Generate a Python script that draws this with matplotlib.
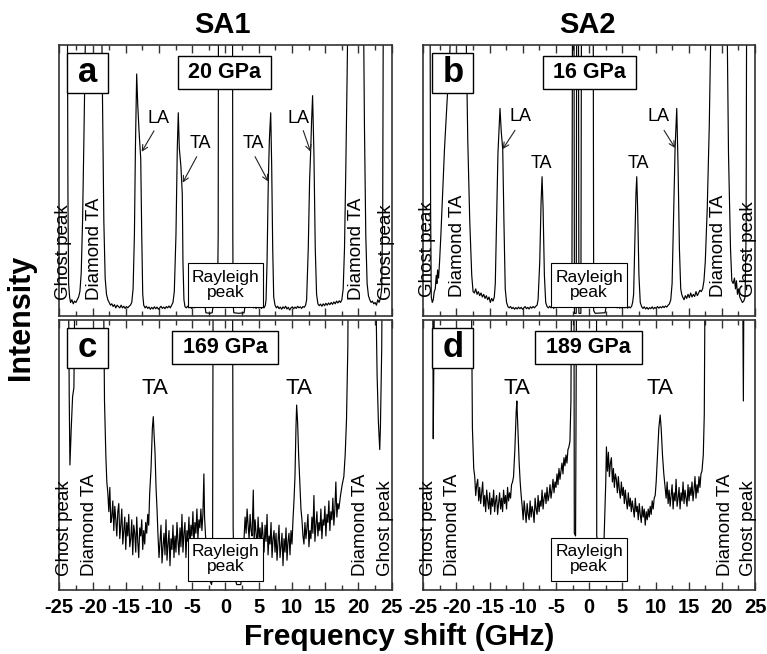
import numpy as np
import matplotlib
matplotlib.use("Agg")
from matplotlib import pyplot as plt
from matplotlib.patches import Rectangle
from matplotlib.ticker import MultipleLocator

plt.rcParams['font.family'] = ['Liberation Sans', 'DejaVu Sans']
plt.rcParams['axes.unicode_minus'] = False

# spectra: (frequency shift in GHz, intensity as fraction of panel height)
# values > 1 are off scale (clipped by the frame)
spec_a = [(-25.0, 1.3), (-23.8, 1.3), (-23.7, 0.45), (-23.6, 0.12), (-23.45, 0.07), (-23.3, 0.05), (-23.1, 0.06),
          (-22.9, 0.045), (-22.7, 0.055), (-22.5, 0.05), (-22.3, 0.06), (-22.1, 0.07), (-21.9, 0.09), (-21.7, 0.16),
          (-21.5, 0.35), (-21.3, 0.65), (-21.1, 1.0), (-20.9, 1.3), (-18.7, 1.3), (-18.5, 0.8), (-18.3, 0.35),
          (-18.1, 0.14), (-17.9, 0.08), (-17.7, 0.06), (-17.5, 0.05), (-17.3, 0.04), (-17.1, 0.045), (-16.9, 0.035),
          (-16.7, 0.042), (-16.5, 0.03), (-16.3, 0.04), (-16.1, 0.035), (-15.9, 0.03), (-15.7, 0.04), (-15.5, 0.03),
          (-15.3, 0.036), (-15.1, 0.028), (-14.9, 0.035), (-14.7, 0.03), (-14.5, 0.036), (-14.3, 0.04), (-14.1, 0.05),
          (-13.9, 0.1), (-13.7, 0.3), (-13.55, 0.62), (-13.36, 0.893), (-13.2, 0.78), (-13.0, 0.68), (-12.75, 0.58),
          (-12.6, 0.3), (-12.45, 0.08), (-12.3, 0.04), (-12.1, 0.03), (-11.9, 0.036), (-11.7, 0.028), (-11.5, 0.033),
          (-11.3, 0.025), (-11.1, 0.032), (-10.9, 0.026), (-10.7, 0.034), (-10.5, 0.027), (-10.3, 0.033),
          (-10.1, 0.025), (-9.9, 0.03), (-9.7, 0.036), (-9.5, 0.028), (-9.3, 0.033), (-9.1, 0.027), (-8.9, 0.035),
          (-8.7, 0.03), (-8.5, 0.037), (-8.3, 0.03), (-8.1, 0.04), (-7.9, 0.05), (-7.7, 0.09), (-7.45, 0.3),
          (-7.25, 0.62), (-7.1, 0.75), (-6.95, 0.62), (-6.7, 0.55), (-6.5, 0.45), (-6.4, 0.2), (-6.25, 0.06),
          (-6.1, 0.035), (-5.9, 0.03), (-5.7, 0.036), (-5.5, 0.03), (-5.3, 0.034), (-5.1, 0.028), (-4.9, 0.035),
          (-4.7, 0.03), (-4.5, 0.036), (-4.3, 0.032), (-4.1, 0.038), (-3.9, 0.034), (-3.7, 0.04), (-3.5, 0.038),
          (-3.3, 0.042), (-3.1, 0.04), (-2.95, 0.012), (-2.4, 0.01), (-2.0, 0.012), (-1.85, 0.04), (-1.5, 0.045),
          (-1.2, 0.06), (-1.1, 0.3), (-1.05, 1.3), (1.05, 1.3), (1.1, 0.3), (1.15, 0.04), (1.25, 0.012), (2.0, 0.01),
          (2.8, 0.012), (2.95, 0.04), (3.2, 0.042), (3.4, 0.038), (3.6, 0.04), (3.8, 0.035), (4.0, 0.038),
          (4.2, 0.03), (4.4, 0.035), (4.6, 0.028), (4.8, 0.034), (5.0, 0.03), (5.2, 0.036), (5.4, 0.028),
          (5.6, 0.033), (5.8, 0.03), (6.0, 0.04), (6.1, 0.06), (6.25, 0.2), (6.44, 0.5), (6.6, 0.65), (6.8, 0.75),
          (6.95, 0.55), (7.1, 0.25), (7.25, 0.07), (7.45, 0.04), (7.65, 0.03), (7.85, 0.036), (8.05, 0.027),
          (8.25, 0.033), (8.45, 0.025), (8.65, 0.034), (8.85, 0.028), (9.05, 0.036), (9.25, 0.026), (9.45, 0.032),
          (9.65, 0.022), (9.85, 0.03), (10.05, 0.034), (10.25, 0.027), (10.45, 0.033), (10.65, 0.028),
          (10.85, 0.036), (11.05, 0.03), (11.25, 0.034), (11.45, 0.028), (11.65, 0.035), (11.85, 0.032),
          (12.05, 0.04), (12.2, 0.06), (12.45, 0.25), (12.65, 0.5), (12.8, 0.6), (12.95, 0.72), (13.1, 0.813),
          (13.3, 0.6), (13.5, 0.25), (13.7, 0.08), (13.9, 0.045), (14.1, 0.038), (14.3, 0.044), (14.5, 0.036),
          (14.7, 0.045), (14.9, 0.038), (15.1, 0.047), (15.3, 0.04), (15.5, 0.048), (15.7, 0.042), (15.9, 0.05),
          (16.1, 0.043), (16.3, 0.052), (16.5, 0.045), (16.7, 0.055), (16.9, 0.048), (17.1, 0.056), (17.3, 0.05),
          (17.5, 0.06), (17.7, 0.1), (17.9, 0.25), (18.1, 0.55), (18.3, 0.9), (18.5, 1.3), (20.7, 1.3), (20.9, 0.7),
          (21.1, 0.3), (21.3, 0.12), (21.5, 0.075), (21.7, 0.06), (21.9, 0.05), (22.1, 0.055), (22.3, 0.045),
          (22.5, 0.05), (22.7, 0.04), (22.9, 0.06), (23.1, 0.05), (23.3, 0.065), (23.5, 0.1), (23.65, 0.4),
          (23.75, 1.3), (25.0, 1.3)]

spec_b = [(-25.0, 1.3), (-24.0, 1.3), (-23.9, 0.4), (-23.8, 0.07), (-23.65, 0.05), (-23.5, 0.06), (-23.35, 0.09),
          (-23.2, 0.1), (-23.05, 0.15), (-22.95, 0.12), (-22.85, 0.17), (-22.7, 0.14), (-22.55, 0.2), (-22.35, 0.3),
          (-22.1, 0.45), (-21.8, 0.62), (-21.4, 0.8), (-21.0, 0.97), (-20.6, 1.3), (-18.7, 1.3), (-18.3, 0.65),
          (-18.0, 0.35), (-17.7, 0.15), (-17.5, 0.09), (-17.3, 0.085), (-17.1, 0.1), (-16.9, 0.08), (-16.7, 0.09),
          (-16.5, 0.075), (-16.3, 0.085), (-16.1, 0.07), (-15.9, 0.08), (-15.7, 0.065), (-15.5, 0.075), (-15.3, 0.06),
          (-15.1, 0.07), (-14.9, 0.05), (-14.7, 0.065), (-14.5, 0.055), (-14.3, 0.07), (-14.15, 0.12), (-14.0, 0.3),
          (-13.75, 0.6), (-13.44, 0.766), (-13.25, 0.68), (-13.03, 0.615), (-12.85, 0.35), (-12.65, 0.1),
          (-12.45, 0.05), (-12.25, 0.035), (-12.05, 0.03), (-11.85, 0.035), (-11.65, 0.027), (-11.45, 0.032),
          (-11.25, 0.025), (-11.05, 0.031), (-10.85, 0.026), (-10.65, 0.033), (-10.45, 0.027), (-10.25, 0.032),
          (-10.05, 0.025), (-9.85, 0.03), (-9.65, 0.035), (-9.45, 0.027), (-9.25, 0.032), (-9.05, 0.026),
          (-8.85, 0.034), (-8.65, 0.029), (-8.45, 0.035), (-8.25, 0.03), (-8.05, 0.036), (-7.85, 0.04), (-7.7, 0.06),
          (-7.45, 0.2), (-7.25, 0.42), (-7.1, 0.514), (-6.95, 0.4), (-6.75, 0.15), (-6.55, 0.05), (-6.35, 0.035),
          (-6.15, 0.03), (-5.95, 0.036), (-5.75, 0.03), (-5.55, 0.035), (-5.35, 0.028), (-5.15, 0.034),
          (-4.95, 0.03), (-4.75, 0.037), (-4.55, 0.032), (-4.35, 0.038), (-4.15, 0.034), (-3.95, 0.04),
          (-3.75, 0.036), (-3.55, 0.042), (-3.35, 0.038), (-3.15, 0.043), (-2.95, 0.04), (-2.7, 0.045), (-2.6, 0.1),
          (-2.5, 1.3), (-2.3, 1.3), (-2.22, 0.01), (-1.95, 0.01), (-1.87, 1.3), (-1.62, 1.3), (-1.55, 0.01),
          (-1.25, 0.01), (-1.15, 1.3), (0.6, 1.3), (0.68, 0.02), (0.9, 0.01), (2.4, 0.012), (2.6, 0.04),
          (2.8, 0.043), (3.0, 0.038), (3.2, 0.042), (3.4, 0.036), (3.6, 0.04), (3.8, 0.033), (4.0, 0.038),
          (4.2, 0.03), (4.4, 0.036), (4.6, 0.029), (4.8, 0.034), (5.0, 0.028), (5.2, 0.035), (5.4, 0.03),
          (5.6, 0.036), (5.8, 0.029), (6.0, 0.034), (6.2, 0.03), (6.4, 0.036), (6.55, 0.05), (6.7, 0.08),
          (6.9, 0.3), (7.05, 0.45), (7.17, 0.514), (7.3, 0.4), (7.5, 0.15), (7.7, 0.05), (7.9, 0.035), (8.1, 0.028),
          (8.3, 0.034), (8.5, 0.026), (8.7, 0.032), (8.9, 0.025), (9.1, 0.031), (9.3, 0.027), (9.5, 0.034),
          (9.7, 0.026), (9.9, 0.032), (10.1, 0.028), (10.3, 0.035), (10.5, 0.029), (10.7, 0.034), (10.9, 0.03),
          (11.1, 0.036), (11.3, 0.031), (11.5, 0.037), (11.7, 0.033), (11.9, 0.04), (12.1, 0.045), (12.3, 0.06),
          (12.5, 0.12), (12.7, 0.35), (12.95, 0.62), (13.2, 0.766), (13.4, 0.55), (13.6, 0.25), (13.8, 0.1),
          (13.95, 0.08), (14.1, 0.07), (14.3, 0.06), (14.5, 0.075), (14.7, 0.065), (14.9, 0.08), (15.1, 0.068),
          (15.3, 0.085), (15.5, 0.07), (15.7, 0.08), (15.9, 0.072), (16.1, 0.09), (16.3, 0.075), (16.5, 0.085),
          (16.7, 0.095), (16.9, 0.09), (17.1, 0.1), (17.3, 0.13), (17.5, 0.2), (17.8, 0.4), (18.1, 0.7),
          (18.5, 1.3), (20.7, 1.3), (21.0, 0.6), (21.3, 0.25), (21.5, 0.13), (21.7, 0.12), (21.9, 0.14),
          (22.05, 0.1), (22.2, 0.13), (22.35, 0.08), (22.5, 0.1), (22.7, 0.07), (22.9, 0.06), (23.1, 0.05),
          (23.3, 0.055), (23.5, 0.07), (23.65, 0.3), (23.75, 1.3), (25.0, 1.3)]

spec_c = [(-25.0, 1.3), (-23.65, 1.3), (-23.5, 0.7), (-23.4, 0.463), (-23.2, 0.6), (-23.0, 0.716), (-22.8, 0.75),
          (-22.6, 1.3), (-18.4, 1.3), (-18.2, 0.7), (-18.0, 0.5), (-17.85, 0.4),
          (-17.7, 0.36), (-17.55, 0.29), (-17.4, 0.38), (-17.25, 0.25), (-17.1, 0.27), (-16.95, 0.33), (-16.8, 0.22),
          (-16.65, 0.31), (-16.5, 0.26), (-16.35, 0.2), (-16.2, 0.29), (-16.05, 0.32), (-15.9, 0.19), (-15.75, 0.24),
          (-15.6, 0.3), (-15.45, 0.17), (-15.3, 0.22), (-15.15, 0.27), (-15.0, 0.15), (-14.85, 0.25), (-14.7, 0.2),
          (-14.55, 0.28), (-14.4, 0.16), (-14.25, 0.19), (-14.1, 0.26), (-13.95, 0.13), (-13.8, 0.24), (-13.65, 0.21),
          (-13.5, 0.14), (-13.35, 0.27), (-13.2, 0.18), (-13.05, 0.12), (-12.9, 0.23), (-12.75, 0.2), (-12.6, 0.26),
          (-12.45, 0.15), (-12.3, 0.22), (-12.15, 0.17), (-12.0, 0.25), (-11.85, 0.21), (-11.7, 0.28), (-11.55, 0.24),
          (-11.4, 0.36), (-11.2, 0.45), (-11.0, 0.6), (-10.86, 0.642), (-10.75, 0.58), (-10.6, 0.51), (-10.45, 0.38),
          (-10.3, 0.3), (-10.15, 0.2), (-10.0, 0.12), (-9.85, 0.18), (-9.7, 0.24), (-9.55, 0.1), (-9.4, 0.16),
          (-9.25, 0.21), (-9.1, 0.13), (-8.95, 0.26), (-8.8, 0.11), (-8.65, 0.17), (-8.5, 0.22), (-8.35, 0.09),
          (-8.2, 0.19), (-8.05, 0.15), (-7.9, 0.24), (-7.75, 0.12), (-7.6, 0.2), (-7.45, 0.14), (-7.3, 0.25),
          (-7.15, 0.18), (-7.0, 0.13), (-6.85, 0.23), (-6.7, 0.16), (-6.55, 0.28), (-6.4, 0.14), (-6.25, 0.21),
          (-6.1, 0.25), (-5.95, 0.12), (-5.8, 0.22), (-5.65, 0.18), (-5.5, 0.27), (-5.35, 0.16), (-5.2, 0.24),
          (-5.05, 0.2), (-4.9, 0.29), (-4.75, 0.17), (-4.6, 0.25), (-4.45, 0.21), (-4.3, 0.3), (-4.15, 0.19),
          (-4.0, 0.26), (-3.85, 0.23), (-3.7, 0.3), (-3.55, 0.22), (-3.4, 0.28), (-3.25, 0.43), (-3.15, 0.27),
          (-3.0, 0.2), (-2.6, 0.05), (-2.1, 0.02), (-1.95, 0.05), (-1.85, 1.3), (1.05, 1.3), (1.15, 0.23),
          (1.3, 0.05), (1.7, 0.02), (2.3, 0.02), (2.6, 0.1), (2.85, 0.22),
          (2.95, 0.27), (3.1, 0.21), (3.25, 0.3), (3.4, 0.24), (3.55, 0.19), (3.7, 0.28), (3.85, 0.22), (4.0, 0.2),
          (4.18, 0.37), (4.3, 0.18), (4.45, 0.26), (4.6, 0.21), (4.75, 0.16), (4.9, 0.27), (5.05, 0.19), (5.2, 0.23),
          (5.35, 0.15), (5.5, 0.25), (5.65, 0.2), (5.8, 0.14), (5.95, 0.24), (6.1, 0.18), (6.25, 0.28), (6.4, 0.13),
          (6.55, 0.2), (6.7, 0.17), (6.85, 0.25), (7.0, 0.12), (7.15, 0.19), (7.3, 0.22), (7.45, 0.14), (7.6, 0.21),
          (7.75, 0.11), (7.9, 0.18), (8.05, 0.24), (8.2, 0.12), (8.35, 0.16), (8.5, 0.21), (8.65, 0.09), (8.8, 0.19),
          (8.95, 0.14), (9.1, 0.23), (9.25, 0.11), (9.4, 0.18), (9.55, 0.21), (9.7, 0.13), (9.85, 0.22), (10.0, 0.17),
          (10.15, 0.26), (10.3, 0.33), (10.45, 0.42), (10.6, 0.6), (10.7, 0.685), (10.85, 0.62), (11.0, 0.5),
          (11.2, 0.38), (11.35, 0.3), (11.5, 0.26), (11.65, 0.2), (11.8, 0.17), (11.95, 0.25), (12.1, 0.19),
          (12.25, 0.23), (12.4, 0.28), (12.55, 0.16), (12.7, 0.22), (12.85, 0.19), (13.0, 0.27), (13.15, 0.21),
          (13.3, 0.35), (13.45, 0.18), (13.6, 0.24), (13.75, 0.29), (13.9, 0.2), (14.05, 0.25), (14.2, 0.22),
          (14.35, 0.3), (14.5, 0.19), (14.65, 0.26), (14.8, 0.24), (14.95, 0.31), (15.1, 0.2), (15.25, 0.28),
          (15.4, 0.25), (15.55, 0.33), (15.7, 0.22), (15.85, 0.29), (16.0, 0.26), (16.15, 0.34), (16.3, 0.24),
          (16.45, 0.3), (16.6, 0.4), (16.75, 0.27), (16.9, 0.32), (17.05, 0.3), (17.3, 0.35), (17.55, 0.39),
          (17.8, 0.42), (18.0, 0.5), (18.2, 0.63), (18.4, 0.9), (18.5, 1.3), (22.5, 1.3), (22.8, 0.8), (23.0, 0.62),
          (23.2, 0.52), (23.3, 0.6), (23.5, 0.9), (23.6, 1.3), (25.0, 1.3)]

spec_d = [(-25.0, 1.3), (-23.6, 1.3), (-23.5, 0.56), (-23.4, 0.9), (-23.25, 1.3), (-17.8, 1.3), (-17.6, 0.6),
          (-17.4, 0.45), (-17.25, 0.42), (-17.1, 0.35), (-16.95, 0.39), (-16.8, 0.41), (-16.65, 0.33), (-16.5, 0.38),
          (-16.35, 0.32), (-16.2, 0.36), (-16.05, 0.4), (-15.9, 0.31), (-15.75, 0.35), (-15.6, 0.29), (-15.45, 0.37),
          (-15.3, 0.33), (-15.15, 0.3), (-15.0, 0.36), (-14.85, 0.28), (-14.7, 0.34), (-14.55, 0.31), (-14.4, 0.37),
          (-14.25, 0.29), (-14.1, 0.33), (-13.95, 0.35), (-13.8, 0.28), (-13.65, 0.32), (-13.5, 0.36), (-13.35, 0.3),
          (-13.2, 0.34), (-13.05, 0.29), (-12.9, 0.37), (-12.75, 0.32), (-12.6, 0.35), (-12.45, 0.3), (-12.3, 0.38),
          (-12.15, 0.33), (-12.0, 0.36), (-11.85, 0.34), (-11.7, 0.39), (-11.55, 0.4), (-11.4, 0.42), (-11.2, 0.52),
          (-11.0, 0.66), (-10.9, 0.70), (-10.75, 0.6), (-10.55, 0.47), (-10.4, 0.4), (-10.25, 0.35), (-10.1, 0.31),
          (-9.95, 0.26), (-9.8, 0.33), (-9.65, 0.29), (-9.5, 0.25), (-9.35, 0.32), (-9.2, 0.28), (-9.05, 0.26),
          (-8.9, 0.33), (-8.75, 0.27), (-8.6, 0.31), (-8.45, 0.29), (-8.3, 0.25), (-8.15, 0.34), (-8.0, 0.3),
          (-7.85, 0.28), (-7.7, 0.35), (-7.55, 0.29), (-7.4, 0.33), (-7.25, 0.31), (-7.1, 0.37), (-6.95, 0.3),
          (-6.8, 0.34), (-6.65, 0.36), (-6.5, 0.32), (-6.35, 0.38), (-6.2, 0.33), (-6.05, 0.35), (-5.9, 0.39),
          (-5.75, 0.34), (-5.6, 0.37), (-5.45, 0.41), (-5.3, 0.36), (-5.15, 0.4), (-5.0, 0.38), (-4.85, 0.43),
          (-4.7, 0.39), (-4.55, 0.45), (-4.4, 0.41), (-4.25, 0.44), (-4.1, 0.47), (-3.95, 0.43), (-3.8, 0.49),
          (-3.65, 0.46), (-3.5, 0.5), (-3.35, 0.47), (-3.2, 0.52), (-3.05, 0.53), (-2.9, 0.55), (-2.75, 0.7),
          (-2.63, 1.3), (-2.3, 1.3), (-2.24, 0.21), (-2.05, 0.2), (-1.88, 1.3), (1.1, 1.3), (1.14, 0.2), (1.5, 0.15),
          (2.2, 0.15), (2.5, 0.4), (2.6, 0.53), (2.75, 0.44), (2.9, 0.51), (3.05, 0.42), (3.2, 0.47), (3.35, 0.49),
          (3.5, 0.4), (3.65, 0.45), (3.8, 0.38), (3.95, 0.43), (4.1, 0.41), (4.25, 0.36), (4.4, 0.42), (4.55, 0.37),
          (4.7, 0.34), (4.85, 0.4), (5.0, 0.35), (5.15, 0.38), (5.3, 0.32), (5.45, 0.37), (5.6, 0.33), (5.75, 0.3),
          (5.9, 0.36), (6.05, 0.31), (6.2, 0.34), (6.35, 0.29), (6.5, 0.33), (6.65, 0.3), (6.8, 0.27), (6.95, 0.34),
          (7.1, 0.29), (7.25, 0.31), (7.4, 0.26), (7.55, 0.32), (7.7, 0.28), (7.85, 0.25), (8.0, 0.31), (8.15, 0.27),
          (8.3, 0.3), (8.45, 0.24), (8.6, 0.29), (8.75, 0.26), (8.9, 0.3), (9.05, 0.27), (9.2, 0.31), (9.35, 0.28),
          (9.5, 0.33), (9.65, 0.3), (9.8, 0.34), (9.95, 0.35), (10.1, 0.4), (10.3, 0.5), (10.5, 0.6), (10.7, 0.648),
          (10.85, 0.6), (11.05, 0.5), (11.25, 0.43), (11.45, 0.38), (11.6, 0.34), (11.75, 0.4), (11.9, 0.32),
          (12.05, 0.37), (12.2, 0.31), (12.35, 0.35), (12.5, 0.39), (12.65, 0.3), (12.8, 0.36), (12.95, 0.33),
          (13.1, 0.41), (13.25, 0.31), (13.4, 0.34), (13.55, 0.38), (13.7, 0.3), (13.85, 0.36), (14.0, 0.33),
          (14.15, 0.4), (14.3, 0.32), (14.45, 0.37), (14.6, 0.34), (14.75, 0.31), (14.9, 0.39), (15.05, 0.33),
          (15.2, 0.38), (15.35, 0.35), (15.5, 0.4), (15.65, 0.33), (15.8, 0.37), (15.95, 0.42), (16.1, 0.34),
          (16.25, 0.39), (16.4, 0.36), (16.55, 0.42), (16.7, 0.38), (16.85, 0.43), (17.0, 0.44), (17.2, 0.5),
          (17.35, 0.65), (17.5, 1.3), (23.1, 1.3), (23.24, 0.70), (23.35, 1.3), (25.0, 1.3)]

spectra = [spec_a, spec_b, spec_c, spec_d]
panel_letters = ["a", "b", "c", "d"]
pressures = ["20 GPa", "16 GPa", "169 GPa", "189 GPa"]
columns = ["SA1", "SA2"]
xticks = [-25, -20, -15, -10, -5, 0, 5, 10, 15, 20, 25]

# mode labels: (text, x, y) and arrows (start, tip) in data coords
mode_labels = [
    [("LA", -10.1, 0.73), ("TA", -3.84, 0.637), ("TA", 4.18, 0.637), ("LA", 10.95, 0.73)],
    [("LA", -10.42, 0.735), ("TA", -7.15, 0.563), ("TA", 7.41, 0.563), ("LA", 10.43, 0.735)],
    [("TA", -10.6, 0.747), ("TA", 11.06, 0.747)],
    [("TA", -10.92, 0.747), ("TA", 10.68, 0.747)],
]
mode_arrows = [
    [((-10.76, 0.683), (-12.6, 0.606)), ((-4.33, 0.588), (-6.44, 0.492)),
     ((4.44, 0.588), (6.44, 0.496)), ((11.7, 0.684), (12.8, 0.606))],
    [((-11.18, 0.685), (-13.03, 0.616)), ((11.29, 0.685), (12.95, 0.62))],
    [],
    [],
]

# layout (figure fractions)
axes_pos = [[0.0773, 0.5168, 0.4334, 0.4144], [0.5519, 0.5168, 0.4325, 0.4144],
            [0.0773, 0.0979, 0.4334, 0.4128], [0.5519, 0.0979, 0.4325, 0.4128]]
side_x = [[0.014, 0.105, 0.893, 0.983], [0.012, 0.103, 0.889, 0.98],
          [0.017, 0.092, 0.907, 0.98], [0.015, 0.089, 0.91, 0.98]]
side_y = [0.06, 0.07, 0.05, 0.05]
press_box = [(0.357, 0.28), (0.36, 0.281), (0.338, 0.321), (0.337, 0.323)]

fig = plt.figure(figsize=(7.67, 6.54), dpi=100)
frame_col = "#333333"

for i in range(4):
    ax = fig.add_axes(axes_pos[i])
    x, y = zip(*spectra[i])
    ax.plot(x, y, color="black", lw=0.85, zorder=2)
    ax.set_xlim(-25, 25)
    ax.set_ylim(0, 1)
    ax.set_yticks([])
    ax.xaxis.set_major_locator(MultipleLocator(5))
    ax.xaxis.set_minor_locator(MultipleLocator(2.5))
    ax.tick_params(axis="x", which="both", direction="in", top=True, bottom=True,
                   color=frame_col, width=1.0)
    ax.tick_params(axis="x", which="major", length=6, pad=6, labelsize=14.5)
    ax.tick_params(axis="x", which="minor", length=3.5)
    for sp in ax.spines.values():
        sp.set_color(frame_col)
        sp.set_linewidth(1.2)
    if i < 2:
        ax.tick_params(axis="x", labelbottom=False)
    else:
        ax.set_xticks(xticks)
        ax.set_xticklabels([str(t) for t in xticks], fontweight="bold")

    # panel letter box
    bx = 0.023 if i % 2 == 0 else 0.027
    ax.add_patch(Rectangle((bx, 0.823), 0.124, 0.148, transform=ax.transAxes,
                           facecolor="white", edgecolor="black", lw=1.0, zorder=5))
    ax.text(bx + 0.062, 0.897, panel_letters[i], transform=ax.transAxes, ha="center", va="center",
            fontsize=25, fontweight="bold", zorder=6)

    # pressure box
    px0, pw = press_box[i]
    ax.add_patch(Rectangle((px0, 0.836), pw, 0.125, transform=ax.transAxes,
                           facecolor="white", edgecolor="black", lw=1.0, zorder=5))
    ax.text(px0 + pw / 2, 0.898, pressures[i], transform=ax.transAxes, ha="center", va="center",
            fontsize=15.5, fontweight="bold", zorder=6)

    # Rayleigh box
    ax.add_patch(Rectangle((0.386, 0.034), 0.227, 0.16, transform=ax.transAxes,
                           facecolor="white", edgecolor="black", lw=0.8, zorder=5))
    ax.text(0.4995, 0.114, "Rayleigh\npeak", transform=ax.transAxes, ha="center", va="center",
            fontsize=12.5, linespacing=1.05, zorder=6)

    # side labels
    for sx, txt in zip(side_x[i], ["Ghost peak", "Diamond TA", "Diamond TA", "Ghost peak"]):
        ax.text(sx, side_y[i], txt, transform=ax.transAxes, rotation=90, ha="center", va="bottom",
                fontsize=13.5, zorder=4)

    fs = 13 if i < 2 else 16
    for txt, tx, ty in mode_labels[i]:
        ax.text(tx, ty, txt, ha="center", va="center", fontsize=fs, zorder=4)
    for start, tip in mode_arrows[i]:
        ax.annotate("", xy=tip, xytext=start,
                    arrowprops=dict(arrowstyle="->", lw=0.8, color="#222222", shrinkA=0, shrinkB=0))

fig.text(0.290, 0.962, columns[0], ha="center", va="center", fontsize=21, fontweight="bold")
fig.text(0.766, 0.962, columns[1], ha="center", va="center", fontsize=21, fontweight="bold")
fig.text(0.028, 0.514, "Intensity", rotation=90, ha="center", va="center", fontsize=22, fontweight="bold")
fig.text(0.52, 0.026, "Frequency shift (GHz)", ha="center", va="center", fontsize=21.5, fontweight="bold")

fig.savefig("out.png", dpi=100)
